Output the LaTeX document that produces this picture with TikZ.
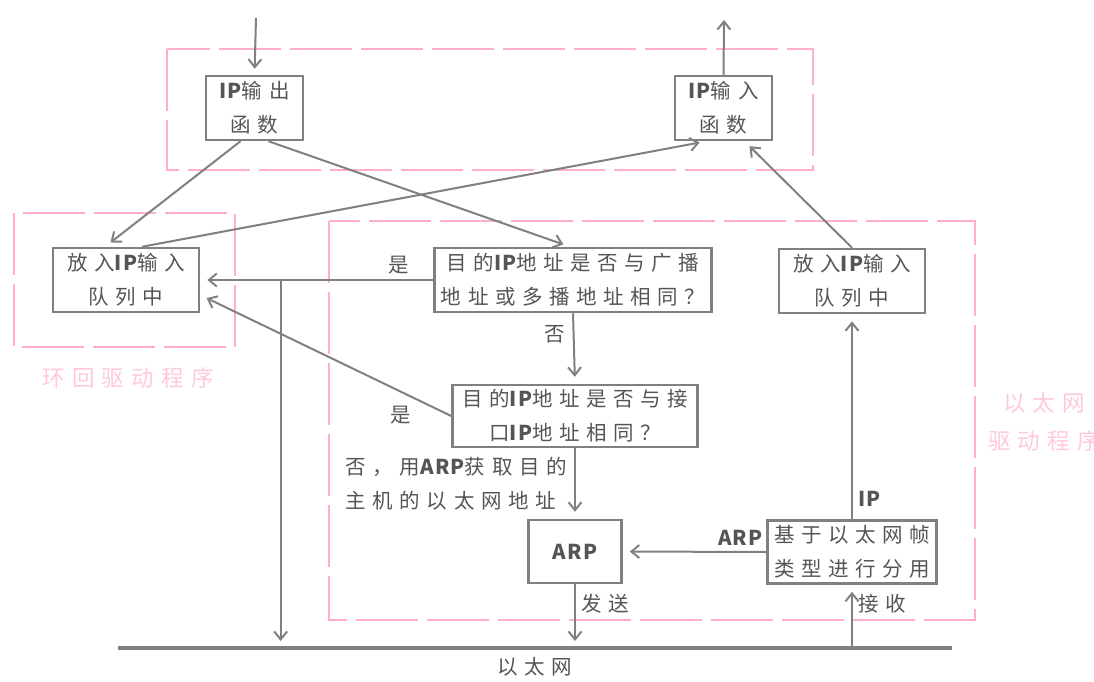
\documentclass[tikz,border=0pt]{standalone}
\usepackage{fontspec}
\setmainfont{Noto Sans CJK SC}[LetterSpace=32]
\newfontfamily\latinpart{Noto Sans CJK SC}[LetterSpace=6]
\newcommand{\lat}[1]{{\latinpart\bfseries #1}}
\usetikzlibrary{arrows.meta,positioning,calc}
\definecolor{linegray}{HTML}{808080}
\definecolor{textgray}{HTML}{555555}
\definecolor{zonepink}{HTML}{FFB0C8}

\begin{document}
\begin{tikzpicture}[
            x=1pt,
            y=-1pt,
            every node/.style={
                    text=textgray,
                    font=\fontsize{20.5}{34}\selectfont
                },
            box/.style={
                    rectangle,
                    draw=linegray,
                    line width=2.5pt,
                    align=center,
                    inner sep=2pt
                },
            flow/.style={
                    draw=linegray,
                    line width=2pt,
                    -{Straight Barb[length=8pt,width=13pt]},
                    shorten >=7pt
                },
            zone/.style={
                    draw=zonepink,
                    line width=2.5pt,
                    dash pattern=on 62pt off 9pt
                },
            zonelabel/.style={
                    text=zonepink!110!red!90,
                    align=center,
                    font=\fontsize{22.5}{38}\selectfont
                }
        ]

        \useasboundingbox (0,0) rectangle (1094,682);

        \draw[zone] (167,49) rectangle (813,170);
        \draw[zone] (14,213) rectangle (235,347);
        \draw[zone] (329,221) rectangle (975,620);
        \node[zonelabel] (loopdrv) at (128,378) {环回驱动程序};
        \node[zonelabel] (ethdrv) at (1044,422) {以太网\\驱动程序};

        \node[box, minimum width=97pt, minimum height=64pt] (ipout) at (254.5,108) {\lat{IP}输出\\函数};
        \node[box, minimum width=97pt, minimum height=64pt] (ipin) at (723.5,108) {\lat{IP}输入\\函数};
        \node[box, minimum width=146pt, minimum height=64pt] (loopq) at (126,280) {放入\lat{IP}输入\\队列中};
        \node[box, minimum width=277pt, minimum height=64pt] (bcast) at (573,280) {目的\lat{IP}地址是否与广播\\地址或多播地址相同？};
        \node[box, minimum width=146pt, minimum height=64pt] (ethq) at (852,281) {放入\lat{IP}输入\\队列中};
        \node[box, minimum width=245pt, minimum height=62pt] (iface) at (575,416) {目的\lat{IP}地址是否与接\\口\lat{IP}地址相同？};
        \node[box, minimum width=93pt, minimum height=63pt] (arp) at (575,551.5) {\lat{ARP}};
        \node[box, minimum width=169pt, minimum height=63pt] (demux) at (852,552) {基于以太网帧\\类型进行分用};

        \coordinate (ethw) at (118,648);
        \coordinate (ethe) at (952,648);
        \coordinate (down) at (256,18);
        \coordinate (up) at (724,20);
        \draw[linegray, line width=4pt] (ethw) -- node[below=4pt] {以太网} (ethe);

        \draw[flow, shorten >=6pt] (down) -- (ipout.north);
        \draw[flow, shorten >=0pt] (ipin.north) -- (up);
        \draw[flow] ([xshift=-14pt]ipout.south) -- ([xshift=-21pt]loopq.north);
        \draw[flow] ([xshift=14pt]ipout.south) -- ([xshift=-3pt]bcast.north);
        \draw[flow] ([xshift=16pt]loopq.north) -- ([xshift=-17pt]ipin.south);
        \draw[flow] (ethq.north) -- ([xshift=21pt]ipin.south);

        \draw[flow] (bcast.west) -- node[pos=0.15, above=2pt] {是} coordinate[pos=0.655] (split) (loopq.east);
        \draw[flow] (split) -- (split |- ethw);
        \draw[flow] (bcast.south) -- node[pos=0.3, left=4pt] {否} (iface.north);
        \draw[flow] (iface.west) -- node[pos=0.2, below=10pt] {是} ([yshift=-15pt]loopq.east);
        \draw[flow] (iface.south) -- node[left=4pt, align=left] {否，用\lat{ARP}获取目的\\主机的以太网地址} (arp.north);
        \draw[flow] (arp.south) -- node[pos=0.3, right=2pt] {发送} (arp.south |- ethw);
        \draw[flow] (demux.west) -- node[pos=0.18, above=2pt] {\lat{ARP}} (arp.east);
        \draw[flow] (demux.north) -- node[pos=0.1, right=2pt] {\lat{IP}} (ethq.south);
        \draw[flow] (demux.south |- ethw) -- node[pos=0.7, right=2pt] {接收} (demux.south);

    \end{tikzpicture}
\end{document}
